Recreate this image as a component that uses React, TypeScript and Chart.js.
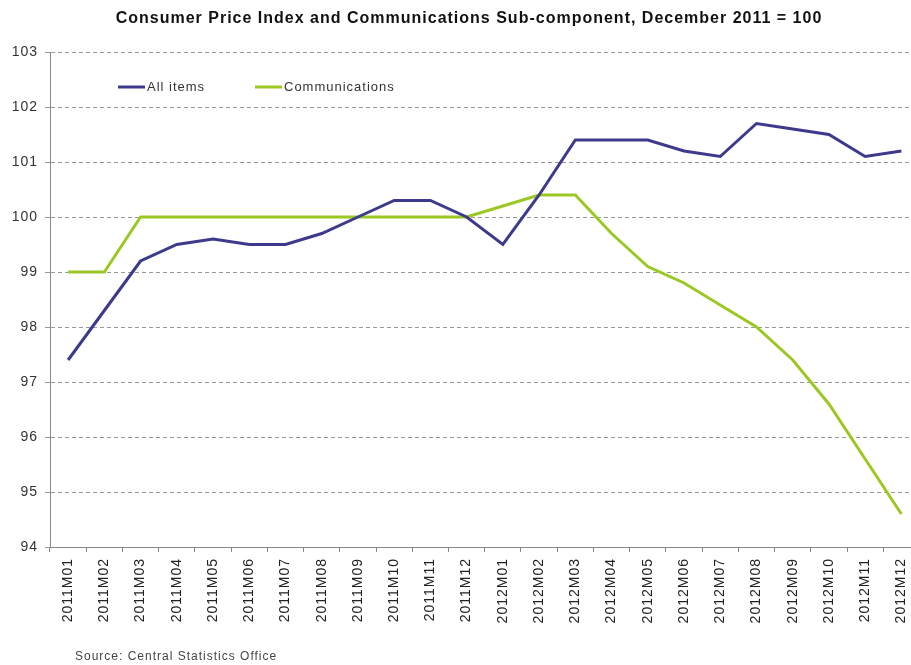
import React, { useEffect, useRef } from 'react';
import { Chart, registerables } from 'chart.js';

Chart.register(...registerables);

const TITLE = 'Consumer Price Index and Communications Sub-component, December 2011 = 100';
const SOURCE = 'Source: Central Statistics Office';

const categories = [
  '2011M01', '2011M02', '2011M03', '2011M04', '2011M05', '2011M06',
  '2011M07', '2011M08', '2011M09', '2011M10', '2011M11', '2011M12',
  '2012M01', '2012M02', '2012M03', '2012M04', '2012M05', '2012M06',
  '2012M07', '2012M08', '2012M09', '2012M10', '2012M11', '2012M12',
];

const allItems = [
  97.4, 98.3, 99.2, 99.5, 99.6, 99.5, 99.5, 99.7, 100.0, 100.3, 100.3, 100.0,
  99.5, 100.4, 101.4, 101.4, 101.4, 101.2, 101.1, 101.7, 101.6, 101.5, 101.1, 101.2,
];

const communications = [
  99.0, 99.0, 100.0, 100.0, 100.0, 100.0, 100.0, 100.0, 100.0, 100.0, 100.0, 100.0,
  100.2, 100.4, 100.4, 99.7, 99.1, 98.8, 98.4, 98.0, 97.4, 96.6, 95.6, 94.6,
];

const seriesNames = ['All items', 'Communications'];
const seriesColors = ['#3d3a8d', '#9cc824'];

const yMin = 94;
const yMax = 103;

const FONT = '"Liberation Sans", Arial, sans-serif';

export default function App() {
  const ref = useRef<HTMLCanvasElement>(null);

  useEffect(() => {
    const canvas = ref.current;
    if (!canvas) return;

    const textPlugin = {
      id: 'texts',
      beforeDraw(chart: any) {
        (chart.ctx as any).letterSpacing = '1px';
      },
      afterDraw(chart: any) {
        const ctx = chart.ctx as any;
        ctx.save();
        // title
        ctx.letterSpacing = '1px';
        ctx.font = `bold 16px ${FONT}`;
        ctx.fillStyle = '#111';
        ctx.textAlign = 'center';
        ctx.textBaseline = 'middle';
        ctx.fillText(TITLE, 469, 19);
        // legend
        const legendX = [118, 255];
        ctx.font = `13px ${FONT}`;
        ctx.textAlign = 'left';
        chart.data.datasets.forEach((ds: any, i: number) => {
          const x = legendX[i];
          const y = 87;
          ctx.strokeStyle = ds.borderColor;
          ctx.lineWidth = 3;
          ctx.beginPath();
          ctx.moveTo(x, y);
          ctx.lineTo(x + 27, y);
          ctx.stroke();
          ctx.fillStyle = '#333';
          ctx.fillText(ds.label, x + 29, y);
        });
        // source
        ctx.font = `12px ${FONT}`;
        ctx.fillStyle = '#444';
        ctx.letterSpacing = '1px';
        ctx.fillText(SOURCE, 75, 657);
        ctx.restore();
      },
    };

    const chart = new Chart(canvas, {
      type: 'line',
      data: {
        labels: categories,
        datasets: [
          {
            label: seriesNames[0],
            data: allItems,
            borderColor: seriesColors[0],
            backgroundColor: seriesColors[0],
            borderWidth: 3,
            pointRadius: 0,
            tension: 0,
          },
          {
            label: seriesNames[1],
            data: communications,
            borderColor: seriesColors[1],
            backgroundColor: seriesColors[1],
            borderWidth: 3,
            pointRadius: 0,
            tension: 0,
          },
        ],
      },
      options: {
        responsive: false,
        animation: false,
        devicePixelRatio: 1,
        layout: { padding: { top: 52, left: 0, right: 10.5, bottom: 0 } },
        plugins: {
          legend: { display: false },
          title: { display: false },
          tooltip: { enabled: false },
        },
        scales: {
          x: {
            type: 'category',
            offset: true,
            grid: {
              display: true,
              offset: true,
              drawOnChartArea: false,
              drawTicks: true,
              tickLength: 5,
              color: '#888',
            },
            border: { display: true, color: '#888', width: 1 },
            ticks: {
              autoSkip: false,
              minRotation: 90,
              maxRotation: 90,
              padding: 6,
              color: '#222',
              font: { family: FONT, size: 14 },
            },
            afterFit(scale: any) {
              scale.height = 118;
            },
          },
          y: {
            min: yMin,
            max: yMax,
            ticks: {
              stepSize: 1,
              padding: 7,
              color: '#333',
              font: { family: FONT, size: 14 },
            },
            grid: {
              color: '#999',
              lineWidth: 1,
              drawTicks: true,
              tickLength: 5,
              tickColor: '#999',
            },
            border: { display: true, color: '#888', width: 1, dash: [4, 3] },
            afterFit(scale: any) {
              scale.width = 50;
            },
          },
        },
      },
      plugins: [textPlugin],
    } as any);

    return () => chart.destroy();
  }, []);

  return (
    <div
      style={{
        position: 'fixed',
        left: 0,
        top: 0,
        width: 911,
        height: 665,
        overflow: 'hidden',
        background: '#fff',
      }}
    >
      <canvas ref={ref} width={930} height={665} style={{ display: 'block' }} />
    </div>
  );
}
